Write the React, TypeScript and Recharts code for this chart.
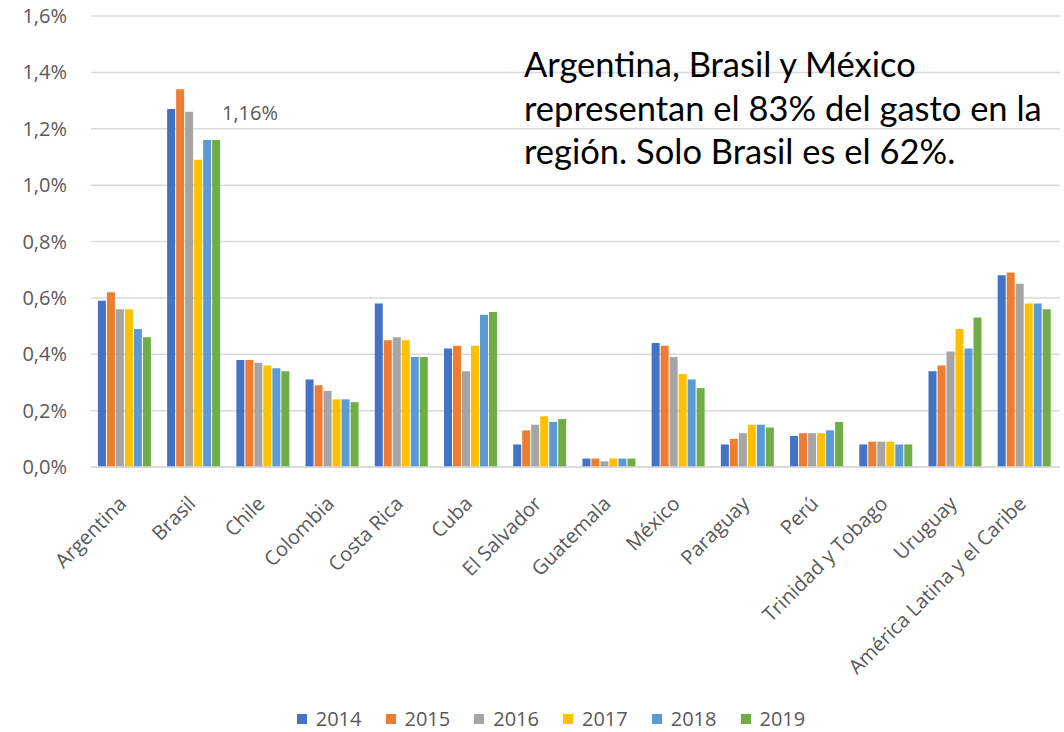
import React from 'react';
import { BarChart, Bar, XAxis, YAxis, CartesianGrid, Legend } from 'recharts';

const countries = [
  'Argentina', 'Brasil', 'Chile', 'Colombia', 'Costa Rica', 'Cuba', 'El Salvador',
  'Guatemala', 'México', 'Paraguay', 'Perú', 'Trinidad y Tobago', 'Uruguay',
  'América Latina y el Caribe',
];

// gasto como % del PIB, una lista por año
const y2014 = [0.59, 1.27, 0.38, 0.31, 0.58, 0.42, 0.08, 0.03, 0.44, 0.08, 0.11, 0.08, 0.34, 0.68];
const y2015 = [0.62, 1.34, 0.38, 0.29, 0.45, 0.43, 0.13, 0.03, 0.43, 0.10, 0.12, 0.09, 0.36, 0.69];
const y2016 = [0.56, 1.26, 0.37, 0.27, 0.46, 0.34, 0.15, 0.02, 0.39, 0.12, 0.12, 0.09, 0.41, 0.65];
const y2017 = [0.56, 1.09, 0.36, 0.24, 0.45, 0.43, 0.18, 0.03, 0.33, 0.15, 0.12, 0.09, 0.49, 0.58];
const y2018 = [0.49, 1.16, 0.35, 0.24, 0.39, 0.54, 0.16, 0.03, 0.31, 0.15, 0.13, 0.08, 0.42, 0.58];
const y2019 = [0.46, 1.16, 0.34, 0.23, 0.39, 0.55, 0.17, 0.03, 0.28, 0.14, 0.16, 0.08, 0.53, 0.56];

const years = ['2014', '2015', '2016', '2017', '2018', '2019'];
const colors = ['#4472C4', '#ED7D31', '#A5A5A5', '#FFC000', '#5B9BD5', '#70AD47'];
const yTicks = [0, 0.2, 0.4, 0.6, 0.8, 1.0, 1.2, 1.4, 1.6];

const series = [y2014, y2015, y2016, y2017, y2018, y2019];
const data = countries.map((name, i) => {
  const row: Record<string, string | number> = { name };
  years.forEach((yr, k) => { row[yr] = series[k][i]; });
  return row;
});

const FONT = '"Open Sans", "DejaVu Sans", sans-serif';
const GRAY = '#595959';

const fmtPct = (v: number) => v.toFixed(1).replace('.', ',') + '%';

const XTick = (props: any) => {
  const { x, y, payload } = props;
  return (
    <g transform={`translate(${x + 2},${y + 30})`}>
      <text x={0} y={0} textAnchor="end" transform="rotate(-45)"
        fill={GRAY} fontSize={20} fontFamily={FONT}>
        {payload.value}
      </text>
    </g>
  );
};

const LegendContent = () => (
  <div style={{ display: 'flex', justifyContent: 'center', fontFamily: FONT, fontSize: 20, color: GRAY }}>
    {years.map((yr, k) => (
      <div key={yr} style={{ display: 'flex', alignItems: 'center', marginRight: 24 }}>
        <span style={{ width: 10, height: 10, background: colors[k], display: 'inline-block', marginRight: 9 }} />
        <span>{yr}</span>
      </div>
    ))}
  </div>
);

export default function App() {
  return (
    <div style={{ position: 'absolute', left: 0, top: 0, width: 1064, height: 732, background: '#fff' }}>
      <BarChart width={1064} height={732} data={data}
        margin={{ top: 16, right: 4, left: 0, bottom: 0 }}
        barCategoryGap="10%" barGap={1}>
        <CartesianGrid vertical={false} stroke="#d9d9d9" strokeWidth={1.5} />
        <XAxis dataKey="name" interval={0} height={265} tick={<XTick />}
          axisLine={{ stroke: '#d9d9d9', strokeWidth: 1.5 }} tickLine={false} />
        <YAxis width={91} domain={[0, 1.6]} ticks={yTicks} tickFormatter={fmtPct}
          axisLine={false} tickLine={false} tickSize={0} tickMargin={24}
          tick={{ fill: GRAY, fontSize: 20, fontFamily: FONT }} />
        <Legend verticalAlign="middle" align="center" content={<LegendContent />}
          wrapperStyle={{ top: 705, left: 31, width: 1064 }} />
        {years.map((yr, k) => (
          <Bar key={yr} dataKey={yr} fill={colors[k]} isAnimationActive={false} />
        ))}
      </BarChart>
      <div style={{ position: 'absolute', left: 222, top: 99, fontFamily: FONT, fontSize: 20, color: GRAY }}>
        1,16%
      </div>
      <div style={{ position: 'absolute', left: 524, top: 42, fontFamily: 'Lato, "Open Sans", sans-serif',
        fontSize: 34.5, lineHeight: '43.5px', color: '#000' }}>
        Argentina, Brasil y México<br />
        representan el 83% del gasto en la<br />
        región. Solo Brasil es el 62%.
      </div>
    </div>
  );
}
